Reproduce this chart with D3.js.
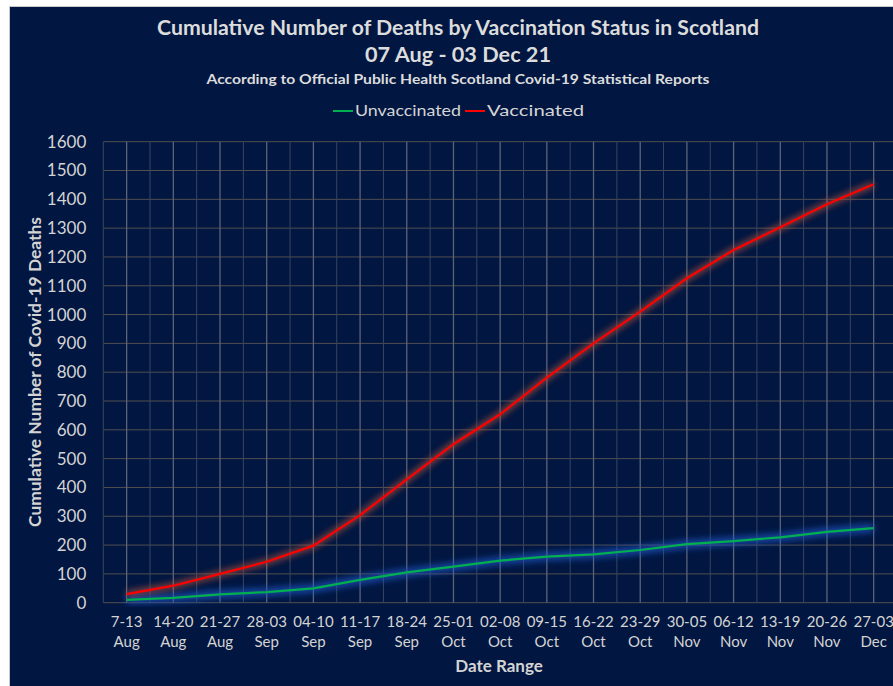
<!DOCTYPE html>
<html>
<head>
<meta charset="utf-8">
<script src="https://cdn.jsdelivr.net/npm/d3@7"></script>
<style>
  html, body { margin: 0; padding: 0; background: #ffffff; }
  svg { display: block; }
  text { font-family: Lato, "Open Sans", sans-serif; }
</style>
</head>
<body>
<svg width="893" height="686"></svg>
<script>
"use strict";

// week ranges (two lines each)
var weeks = ["7-13", "14-20", "21-27", "28-03", "04-10", "11-17", "18-24", "25-01", "02-08",
             "09-15", "16-22", "23-29", "30-05", "06-12", "13-19", "20-26", "27-03"];
var months = ["Aug", "Aug", "Aug", "Sep", "Sep", "Sep", "Sep", "Oct", "Oct",
              "Oct", "Oct", "Oct", "Nov", "Nov", "Nov", "Nov", "Dec"];
var unvaccinated = [10, 17, 29, 37, 50, 79, 105, 125, 146, 160, 168, 183, 203, 214, 227, 246, 259];
var vaccinated = [30, 59, 100, 142, 198, 304, 428, 550, 654, 781, 900, 1010, 1126, 1224, 1303, 1383, 1452];
var yTicks = [0, 100, 200, 300, 400, 500, 600, 700, 800, 900, 1000, 1100, 1200, 1300, 1400, 1500, 1600];

document.addEventListener("DOMContentLoaded", init);

function init() {
    var svg = d3.select("svg");
    var left = 103.3, right = 897, top = 141.7, bottom = 602.7;
    var mid = 458;

    // chart background, small white margin left/top like the screenshot
    svg.append("rect")
       .attr("x", 9.5).attr("y", 6.5)
       .attr("width", 900).attr("height", 700)
       .attr("fill", "#011641")
       .attr("stroke", "#c8c8c8");

    var defs = svg.append("defs");
    glow(defs, "glowRed", 3.2);
    glow(defs, "glowGreen", 3.6);

    var x = d3.scaleBand().domain(d3.range(weeks.length)).range([left, right]);
    var y = d3.scaleLinear().domain([0, 1600]).range([bottom, top]);
    var cx = function(i) { return x(i) + x.bandwidth() / 2; };

    var grid = svg.append("g");
    // horizontal gridlines
    grid.selectAll("line.h").data(yTicks).enter()
        .append("line")
        .attr("x1", left).attr("x2", right)
        .attr("y1", function(d) { return y(d); })
        .attr("y2", function(d) { return y(d); })
        .attr("stroke", "#524f4f").attr("stroke-width", 1);
    // minor vertical lines on band edges
    grid.selectAll("line.e").data(d3.range(weeks.length + 1)).enter()
        .append("line")
        .attr("x1", function(i) { return i < weeks.length ? x(i) : right; })
        .attr("x2", function(i) { return i < weeks.length ? x(i) : right; })
        .attr("y1", top).attr("y2", bottom)
        .attr("stroke", "#3a4660").attr("stroke-width", 1);
    // major vertical lines at the category centres
    grid.selectAll("line.c").data(d3.range(weeks.length)).enter()
        .append("line")
        .attr("x1", cx).attr("x2", cx)
        .attr("y1", top).attr("y2", bottom)
        .attr("stroke", "#5c6478").attr("stroke-width", 1.3);

    // y axis labels
    svg.append("g")
       .attr("transform", "translate(" + left + ",0)")
       .call(d3.axisLeft(y).tickValues(yTicks).tickFormat(d3.format("d")).tickSize(0).tickPadding(17))
       .call(function(g) { g.select(".domain").remove(); })
       .selectAll("text")
       .attr("fill", "#d4d4d4")
       .style("font-size", "17px")
       .style("font-family", "Lato, sans-serif");

    // x axis labels, two lines
    var xl = svg.append("g").selectAll("text").data(weeks).enter()
        .append("text")
        .attr("text-anchor", "middle")
        .attr("fill", "#d4d4d4")
        .style("font-size", "15px");
    xl.append("tspan").attr("x", function(d, i) { return cx(i); }).attr("y", 627).text(function(d) { return d; });
    xl.append("tspan").attr("x", function(d, i) { return cx(i); }).attr("y", 647).text(function(d, i) { return months[i]; });

    var line = d3.line()
        .x(function(d, i) { return cx(i); })
        .y(function(d) { return y(d); });

    // glow first, then the crisp line over it
    svg.append("path").datum(unvaccinated)
       .attr("d", line).attr("fill", "none")
       .attr("stroke", "#2058c8").attr("stroke-width", 7).attr("stroke-opacity", 0.85)
       .attr("filter", "url(#glowGreen)");
    svg.append("path").datum(vaccinated)
       .attr("d", line).attr("fill", "none")
       .attr("stroke", "#b0503a").attr("stroke-width", 6).attr("stroke-opacity", 0.75)
       .attr("filter", "url(#glowRed)");
    svg.append("path").datum(unvaccinated)
       .attr("d", line).attr("fill", "none")
       .attr("stroke", "#00b050").attr("stroke-width", 2.2);
    svg.append("path").datum(vaccinated)
       .attr("d", line).attr("fill", "none")
       .attr("stroke", "#ff0000").attr("stroke-width", 2.2);

    // titles
    svg.append("text").attr("x", mid).attr("y", 35)
       .attr("text-anchor", "middle").attr("fill", "#dcdcdc")
       .style("font-size", "20px").style("font-weight", "bold")
       .attr("textLength", 602).attr("lengthAdjust", "spacingAndGlyphs")
       .text("Cumulative Number of Deaths by Vaccination Status in Scotland");
    svg.append("text").attr("x", mid).attr("y", 62)
       .attr("text-anchor", "middle").attr("fill", "#dcdcdc")
       .style("font-size", "20px").style("font-weight", "bold")
       .attr("textLength", 186).attr("lengthAdjust", "spacingAndGlyphs")
       .text("07 Aug - 03 Dec 21");
    svg.append("text").attr("x", mid).attr("y", 84)
       .attr("text-anchor", "middle").attr("fill", "#dcdcdc")
       .style("font-size", "14px").style("font-weight", "bold")
       .attr("textLength", 503).attr("lengthAdjust", "spacingAndGlyphs")
       .text("According to Official Public Health Scotland Covid-19 Statistical Reports");

    // legend
    var legend = [
        {name: "Unvaccinated", color: "#00b050", x: 333, w: 106},
        {name: "Vaccinated", color: "#ff0000", x: 465, w: 97}
    ];
    var lg = svg.append("g").selectAll("g").data(legend).enter().append("g");
    lg.append("line")
      .attr("x1", function(d) { return d.x; }).attr("x2", function(d) { return d.x + 20; })
      .attr("y1", 111).attr("y2", 111)
      .attr("stroke", function(d) { return d.color; }).attr("stroke-width", 2);
    lg.append("text")
      .attr("x", function(d) { return d.x + 22; }).attr("y", 116)
      .attr("fill", "#d4d4d4").style("font-size", "16px")
      .attr("textLength", function(d) { return d.w; }).attr("lengthAdjust", "spacingAndGlyphs")
      .text(function(d) { return d.name; });

    // axis titles
    svg.append("text").attr("x", 499).attr("y", 672)
       .attr("text-anchor", "middle").attr("fill", "#d4d4d4")
       .style("font-size", "17px").style("font-weight", "bold")
       .text("Date Range");
    svg.append("text")
       .attr("transform", "translate(41,372) rotate(-90)")
       .attr("text-anchor", "middle").attr("fill", "#d4d4d4")
       .style("font-size", "17px").style("font-weight", "bold")
       .attr("textLength", 310).attr("lengthAdjust", "spacingAndGlyphs")
       .text("Cumulative Number of Covid-19 Deaths");
}

// soft blur used behind the lines
function glow(defs, id, sd) {
    defs.append("filter")
        .attr("id", id)
        .attr("x", "-10%").attr("y", "-10%")
        .attr("width", "120%").attr("height", "120%")
      .append("feGaussianBlur")
        .attr("stdDeviation", sd);
}
</script>
</body>
</html>
